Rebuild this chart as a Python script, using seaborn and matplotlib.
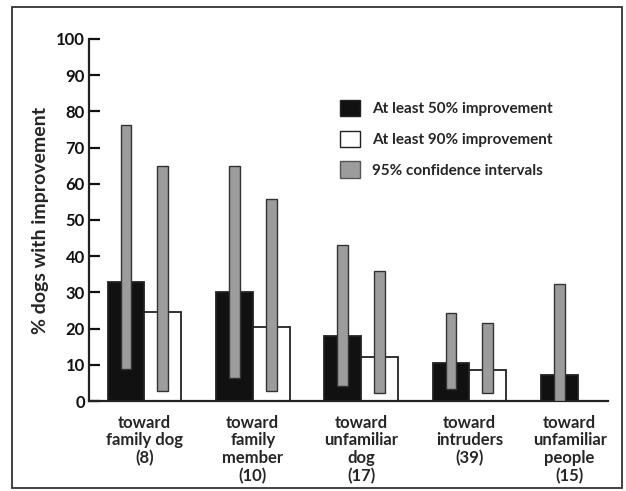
import numpy as np
import pandas as pd
import matplotlib
matplotlib.use("Agg")
import matplotlib.pyplot as plt
import matplotlib.patches as mpatches
import matplotlib.transforms as mtransforms
import seaborn as sns

# ---- data ----
groups = ["toward\nfamily dog\n(8)", "toward\nfamily\nmember\n(10)",
          "toward\nunfamiliar\ndog\n(17)", "toward\nintruders\n(39)",
          "toward\nunfamiliar\npeople\n(15)"]
pct50 = [33.0, 30.0, 18.0, 10.4, 7.2]
pct90 = [24.7, 20.4, 12.2, 8.6, 0.0]
ci50_low = [8.8, 6.4, 4.2, 3.2, 0.0]
ci50_high = [76.2, 65.0, 43.0, 24.2, 32.2]
ci90_low = [2.8, 2.8, 2.1, 2.3, np.nan]
ci90_high = [65.0, 55.8, 36.0, 21.5, np.nan]
series = ["At least 50% improvement", "At least 90% improvement"]
ci_label = "95% confidence intervals"
yticks = [0, 10, 20, 30, 40, 50, 60, 70, 80, 90, 100]

sns.set_style("ticks")
plt.rcParams["font.family"] = ["Lato", "DejaVu Sans"]
plt.rcParams["font.weight"] = "bold"

df = pd.DataFrame({
    "group": groups * 2,
    "series": [series[0]] * len(groups) + [series[1]] * len(groups),
    "value": pct50 + pct90,
})

fig = plt.figure(figsize=(6.26, 4.91), dpi=100)
ax = fig.add_axes([89 / 626, 1 - 401 / 491, (608 - 89) / 626, (401 - 39) / 491])

barw = 0.68
sns.barplot(data=df, x="group", y="value", hue="series", hue_order=series,
            palette={series[0]: "#111111", series[1]: "white"},
            edgecolor="#222222", linewidth=1.3, width=barw, gap=0,
            dodge=True, legend=False, ax=ax, errorbar=None, saturation=1)

pos = np.arange(len(groups))
off = barw / 4
ciw = 0.10
gray = "#9c9c9c"
ax.bar(pos - off, np.array(ci50_high) - np.array(ci50_low), bottom=ci50_low,
       width=ciw, color=gray, edgecolor="#333333", linewidth=1.0, zorder=5)
ax.bar(pos + off, np.array(ci90_high) - np.array(ci90_low), bottom=ci90_low,
       width=ciw, color=gray, edgecolor="#333333", linewidth=1.0, zorder=5)

ax.set_ylim(0, 100)
ax.set_xlim(-0.512, 4.28)
ax.set_yticks(yticks)
ax.set_yticklabels([str(t) for t in yticks], fontsize=12, fontweight="bold")
ax.tick_params(axis="y", direction="in", length=8, width=1.6, pad=3, colors="#111111")
ax.set_xticks(pos)
ax.set_xticklabels(groups, fontsize=12, fontweight="bold", linespacing=1.12)
ax.tick_params(axis="x", length=0, pad=10)
# last label sits a little to the left in the reference
lbl = ax.get_xticklabels()[-1]
lbl.set_transform(lbl.get_transform() + mtransforms.ScaledTranslation(-8 / 100, 0, fig.dpi_scale_trans))

for s in ["top", "right"]:
    ax.spines[s].set_visible(False)
ax.spines["left"].set_linewidth(1.6)
ax.spines["bottom"].set_linewidth(1.6)
ax.spines["left"].set_color("#222222")
ax.spines["bottom"].set_color("#222222")
ax.set_xlabel("")
ax.set_ylabel("% dogs with improvement", fontsize=14, fontweight="bold", labelpad=5)

handles = [mpatches.Patch(facecolor="#111111", edgecolor="#222222", label=series[0]),
           mpatches.Patch(facecolor="white", edgecolor="#222222", label=series[1]),
           mpatches.Patch(facecolor=gray, edgecolor="#555555", label=ci_label)]
fig.legend(handles=handles, loc="upper left", bbox_to_anchor=(340 / 626, 1 - 100 / 491),
           frameon=False, handlelength=1.3, handleheight=1.25,
           handletextpad=0.8, labelspacing=0.95, borderpad=0, borderaxespad=0,
           prop={"weight": "bold", "size": 11})

# outer frame of the figure
fig.patches.append(mpatches.Rectangle((12 / 626, 1 - 488 / 491), (622 - 12) / 626, (488 - 7) / 491,
                                      transform=fig.transFigure, fill=False,
                                      edgecolor="#333333", linewidth=1.3))

fig.savefig("out.png", dpi=100)
